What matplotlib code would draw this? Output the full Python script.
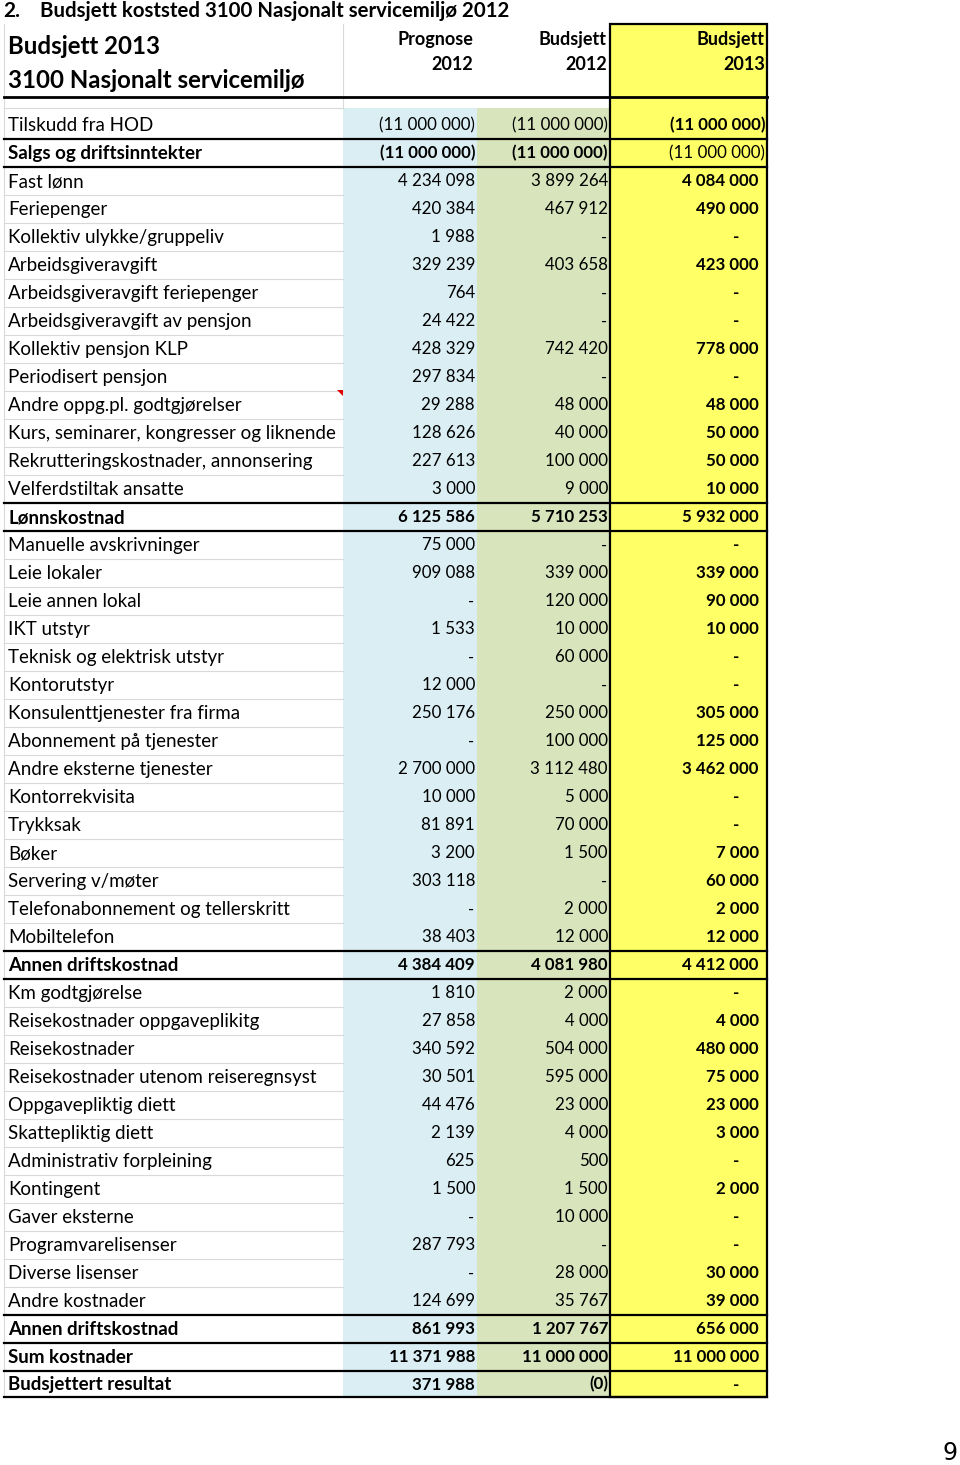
import matplotlib
matplotlib.use("Agg")
import matplotlib.pyplot as plt
from matplotlib.patches import Rectangle, Polygon

plt.rcParams['font.family'] = ['Lato', 'DejaVu Sans']

title = "Budsjett koststed 3100 Nasjonalt servicemiljø 2012"
header_left = ["Budsjett 2013", "3100 Nasjonalt servicemiljø"]
col_headers = [("Prognose", "2012"), ("Budsjett", "2012"), ("Budsjett", "2013")]

labels = [
    "Tilskudd fra HOD", "Salgs og driftsinntekter", "Fast lønn", "Feriepenger",
    "Kollektiv ulykke/gruppeliv", "Arbeidsgiveravgift", "Arbeidsgiveravgift feriepenger",
    "Arbeidsgiveravgift av pensjon", "Kollektiv pensjon KLP", "Periodisert pensjon",
    "Andre oppg.pl. godtgjørelser", "Kurs, seminarer, kongresser og liknende",
    "Rekrutteringskostnader, annonsering", "Velferdstiltak ansatte", "Lønnskostnad",
    "Manuelle avskrivninger", "Leie lokaler", "Leie annen lokal", "IKT utstyr",
    "Teknisk og elektrisk utstyr", "Kontorutstyr", "Konsulenttjenester fra firma",
    "Abonnement på tjenester", "Andre eksterne tjenester", "Kontorrekvisita", "Trykksak",
    "Bøker", "Servering v/møter", "Telefonabonnement og tellerskritt", "Mobiltelefon",
    "Annen driftskostnad", "Km godtgjørelse", "Reisekostnader oppgaveplikitg",
    "Reisekostnader", "Reisekostnader utenom reiseregnsyst", "Oppgavepliktig diett",
    "Skattepliktig diett", "Administrativ forpleining", "Kontingent", "Gaver eksterne",
    "Programvarelisenser", "Diverse lisenser", "Andre kostnader", "Annen driftskostnad",
    "Sum kostnader", "Budsjettert resultat",
]

prognose_2012 = [
    -11000000, -11000000, 4234098, 420384, 1988, 329239, 764, 24422, 428329, 297834,
    29288, 128626, 227613, 3000, 6125586, 75000, 909088, None, 1533, None, 12000,
    250176, None, 2700000, 10000, 81891, 3200, 303118, None, 38403, 4384409, 1810,
    27858, 340592, 30501, 44476, 2139, 625, 1500, None, 287793, None, 124699, 861993,
    11371988, 371988,
]
budsjett_2012 = [
    -11000000, -11000000, 3899264, 467912, None, 403658, None, None, 742420, None,
    48000, 40000, 100000, 9000, 5710253, None, 339000, 120000, 10000, 60000, None,
    250000, 100000, 3112480, 5000, 70000, 1500, None, 2000, 12000, 4081980, 2000,
    4000, 504000, 595000, 23000, 4000, 500, 1500, 10000, None, 28000, 35767, 1207767,
    11000000, -0.3,
]
budsjett_2013 = [
    -11000000, -11000000, 4084000, 490000, None, 423000, None, None, 778000, None,
    48000, 50000, 50000, 10000, 5932000, None, 339000, 90000, 10000, None, None,
    305000, 125000, 3462000, None, None, 7000, 60000, 2000, 12000, 4412000, None,
    4000, 480000, 75000, 23000, 3000, None, 2000, None, None, 30000, 39000, 656000,
    11000000, None,
]

bold_rows = {"Salgs og driftsinntekter", "Lønnskostnad", "Annen driftskostnad",
             "Sum kostnader", "Budsjettert resultat"}
thick_after = {0, 1, 13, 14, 29, 30, 42, 43, 44, 45}

SEP = "\u0020"


def fmt(v):
    if v is None:
        return "-"
    s = f"{abs(round(v)):,}".replace(",", SEP)
    return f"({s})" if v < 0 else s


W, H = 960, 1465
fig = plt.figure(figsize=(W / 100, H / 100), dpi=100)
ax = fig.add_axes([0, 0, 1, 1])
ax.set_xlim(0, W)
ax.set_ylim(H, 0)
ax.axis("off")

x0, x1, x2, x3, x4 = 4, 343, 477, 610, 767
top = 24
hdr_bottom = 97
first_top = 111
rh = 28
n = len(labels)
row_tops = [first_top + i * rh for i in range(n)]
bottom = row_tops[-1] + 26

blue, green, yellow = "#DAEEF3", "#D8E4BC", "#FFFF66"
grey = "#D9D9D9"

ax.add_patch(Rectangle((x1, 108), x2 - x1, bottom - 108, color=blue, lw=0, zorder=0))
ax.add_patch(Rectangle((x2, 108), x3 - x2, bottom - 108, color=green, lw=0, zorder=0))
ax.add_patch(Rectangle((x3, top), x4 - x3, bottom - top, color=yellow, lw=0, zorder=0))

# header grid
ax.plot([x1, x1], [top, 108], color=grey, lw=0.8, zorder=1)
ax.plot([x0, x0], [top, bottom], color=grey, lw=0.8, zorder=1)
ax.plot([x0, x1], [108, 108], color=grey, lw=0.8, zorder=1)

# row separators
for i in range(n):
    yb = row_tops[i] + rh if i < n - 1 else bottom
    if i in thick_after:
        ax.plot([x0, x4], [yb, yb], color="black", lw=1.6, zorder=3)
    else:
        ax.plot([x0, x1], [yb, yb], color=grey, lw=0.8, zorder=1)
ax.plot([x0, x4], [hdr_bottom, hdr_bottom], color="black", lw=2.0, zorder=3)

# yellow column box
ax.add_patch(Rectangle((x3, top), x4 - x3, bottom - top, fill=False,
                       edgecolor="black", lw=1.6, zorder=4))

# comment marker
ax.add_patch(Polygon([[337, 390], [343, 390], [343, 396]], closed=True,
                     color="#E00000", lw=0, zorder=5))

# title
ax.text(3, 11, "2.", fontsize=15, fontweight="bold", va="center", ha="left")
ax.text(40, 11, title, fontsize=14.7, fontweight="bold", va="center", ha="left")

# header texts
ax.text(8, 47, header_left[0], fontsize=17.3, fontweight="bold", va="center", ha="left")
ax.text(8, 81, header_left[1], fontsize=17.3, fontweight="bold", va="center", ha="left")
for (h1, h2), xr in zip(col_headers, [473, 607, 765]):
    ax.text(xr, 39, h1, fontsize=13, fontweight="bold", va="center", ha="right")
    ax.text(xr, 65, h2, fontsize=13, fontweight="bold", va="center", ha="right")

fs = 13.5
fn = 12.2
for i, lab in enumerate(labels):
    yc = row_tops[i] + (rh if i < n - 1 else 26) / 2 + 0.5
    b = "bold" if lab in bold_rows else "normal"
    ax.text(8, yc, lab, fontsize=fs, fontweight=b, va="center", ha="left")
    v = prognose_2012[i]
    if v is None:
        ax.text(471, yc, "-", fontsize=fn, fontweight=b, va="center", ha="center")
    else:
        ax.text(475, yc, fmt(v), fontsize=fn, fontweight=b, va="center", ha="right")
    v = budsjett_2012[i]
    if v is None:
        ax.text(604, yc, "-", fontsize=fn, fontweight=b, va="center", ha="center")
    else:
        ax.text(608, yc, fmt(v), fontsize=fn, fontweight=b, va="center", ha="right")
    v = budsjett_2013[i]
    b3 = "normal" if lab == "Salgs og driftsinntekter" else "bold"
    if v is None:
        ax.text(736, yc, "-", fontsize=fn, fontweight=b3, va="center", ha="center")
    elif v < 0:
        ax.text(765, yc, fmt(v), fontsize=fn, fontweight=b3, va="center", ha="right")
    else:
        ax.text(759, yc, fmt(v), fontsize=fn, fontweight=b3, va="center", ha="right")

ax.text(950, 1453, "9", fontsize=17, va="center", ha="center", family="DejaVu Sans")

fig.savefig("out.png", dpi=100)
